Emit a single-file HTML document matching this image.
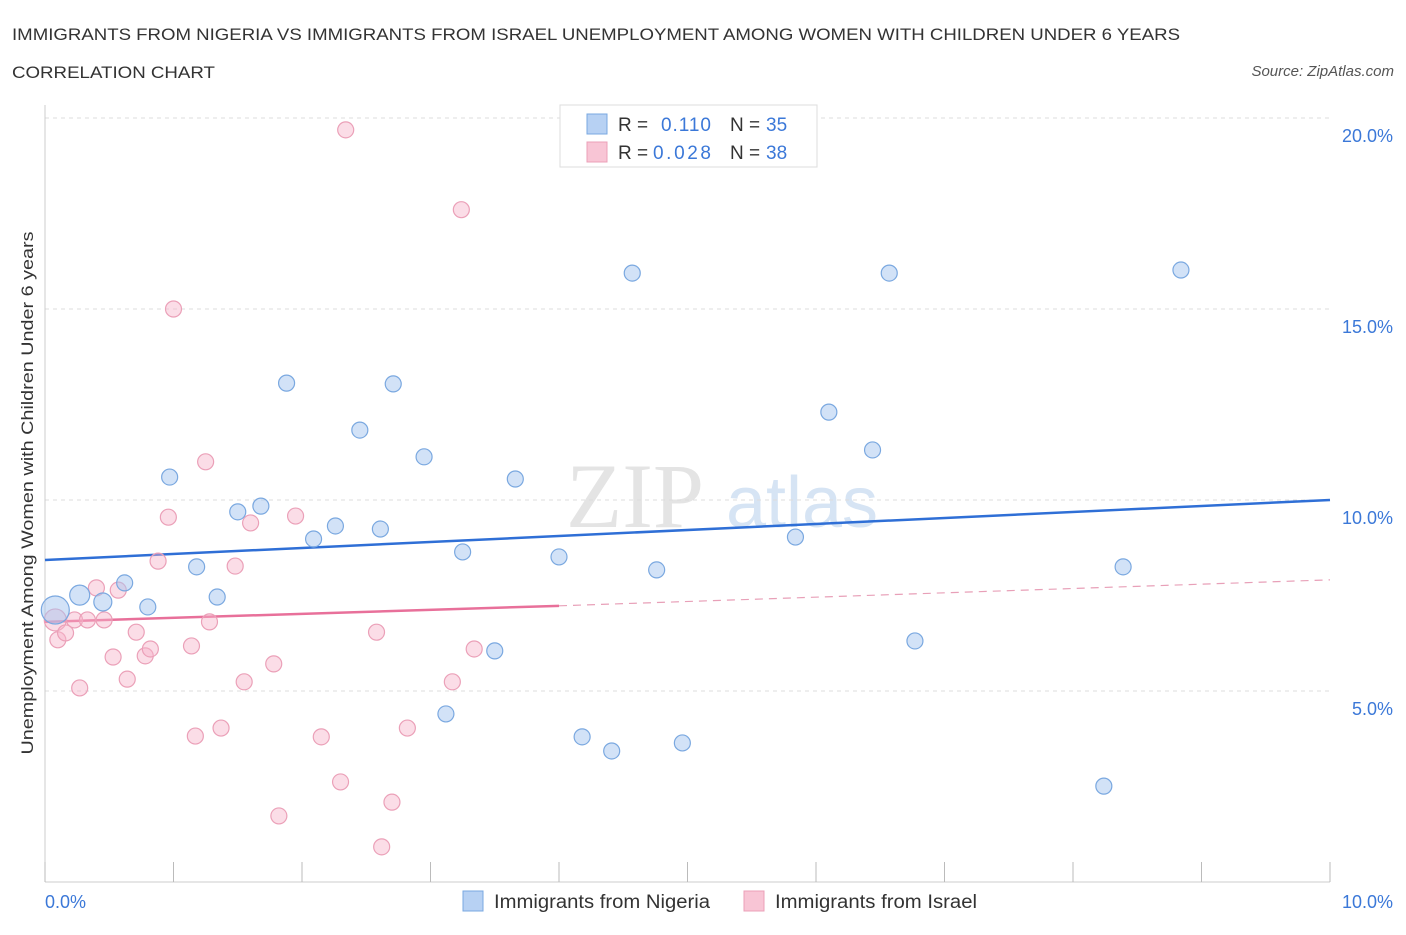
<!DOCTYPE html>
<html><head><meta charset="utf-8"><style>
body{margin:0;background:#fff;font-family:"Liberation Sans",sans-serif}
</style></head><body>
<svg width="1406" height="930" viewBox="0 0 1406 930" xmlns="http://www.w3.org/2000/svg">
<text x="12" y="40" font-size="17" fill="#333" textLength="1168" lengthAdjust="spacingAndGlyphs">IMMIGRANTS FROM NIGERIA VS IMMIGRANTS FROM ISRAEL UNEMPLOYMENT AMONG WOMEN WITH CHILDREN UNDER 6 YEARS</text>
<text x="12" y="78" font-size="17" fill="#333" textLength="203" lengthAdjust="spacingAndGlyphs">CORRELATION CHART</text>
<text x="1394" y="76" font-size="15" fill="#555" font-style="italic" text-anchor="end">Source: ZipAtlas.com</text>
<g>
<text x="635" y="527" font-size="92" fill="#e4e4e4" font-family="Liberation Serif,serif" text-anchor="middle">ZIP</text>
<text x="802" y="527" font-size="72" fill="#d6e4f4" text-anchor="middle">atlas</text>
</g>
<g id="grid"></g>
<line x1="45" y1="105" x2="45" y2="882" stroke="#ccc"/>
<line x1="45" y1="882" x2="1330" y2="882" stroke="#ccc"/>
<g id="ticks"></g>
<g id="trends"></g>
<g id="points"></g>
<text x="30" y="493" font-size="17" fill="#333" transform="rotate(-90 30 493)" text-anchor="middle" textLength="523" lengthAdjust="spacingAndGlyphs" dy="3">Unemployment Among Women with Children Under 6 years</text>
<text x="45" y="908" font-size="18" fill="#3b78d8">0.0%</text>
<text x="1393" y="908" font-size="18" fill="#3b78d8" text-anchor="end">10.0%</text>
<g>
<rect x="560" y="105" width="257" height="62" fill="#fff" stroke="#ddd"/>
<rect x="587" y="114" width="20" height="20" fill="#b7d1f3" stroke="#7aa8e0"/>
<text x="618" y="131" font-size="19" fill="#333">R = </text><text x="661" y="131" font-size="19" fill="#3b78d8" textLength="50">0.110</text>
<text x="730" y="131" font-size="19" fill="#333">N = </text><text x="766" y="131" font-size="19" fill="#3b78d8">35</text>
<rect x="587" y="142" width="20" height="20" fill="#f8c5d5" stroke="#eba0b8"/>
<text x="618" y="159" font-size="19" fill="#333">R = </text><text x="653" y="159" font-size="19" fill="#3b78d8" textLength="58">0.028</text>
<text x="730" y="159" font-size="19" fill="#333">N = </text><text x="766" y="159" font-size="19" fill="#3b78d8">38</text>
</g>
<g>
<rect x="463" y="891" width="20" height="20" fill="#b7d1f3" stroke="#7aa8e0"/>
<text x="494" y="908" font-size="19" fill="#333" textLength="216" lengthAdjust="spacingAndGlyphs">Immigrants from Nigeria</text></g>
<g>
<rect x="744" y="891" width="20" height="20" fill="#f8c5d5" stroke="#eba0b8"/>
<text x="775" y="908" font-size="19" fill="#333" textLength="202" lengthAdjust="spacingAndGlyphs">Immigrants from Israel</text></g>
</svg>
<script>
const yTicks=[5,10,15,20];
const yTickLabels=["5.0%","10.0%","15.0%","20.0%"];
const xTicks=[0,1,2,3,4,5,6,7,8,9,10];
const nigeriaX=[0.08,0.27,0.45,0.62,0.80,0.97,1.18,1.34,1.50,1.68,1.88,2.09,2.26,2.45,2.61,2.71,2.95,3.12,3.25,3.50,3.66,4.00,4.18,4.41,4.57,4.76,4.96,5.84,6.10,6.44,6.57,6.77,8.24,8.39,8.84];
const nigeriaY=[7.12,7.51,7.33,7.83,7.20,10.60,8.25,7.46,9.69,9.84,13.06,8.98,9.32,11.83,9.24,13.04,11.13,4.40,8.64,6.05,10.55,8.51,3.80,3.43,15.94,8.17,3.64,9.03,12.30,11.31,15.94,6.31,2.51,8.25,16.02];
const nigeriaR=[14,10,9,8,8,8,8,8,8,8,8,8,8,8,8,8,8,8,8,8,8,8,8,8,8,8,8,8,8,8,8,8,8,8,8];
const israelX=[0.08,0.10,0.16,0.27,0.23,0.33,0.40,0.46,0.53,0.57,0.64,0.71,0.78,0.82,0.88,0.96,1.00,1.14,1.17,1.25,1.28,1.37,1.48,1.55,1.60,1.78,1.82,1.95,2.15,2.30,2.34,2.58,2.62,2.70,2.82,3.17,3.24,3.34];
const israelY=[6.86,6.34,6.52,5.08,6.86,6.86,7.70,6.86,5.89,7.64,5.31,6.54,5.92,6.10,8.40,9.55,15.0,6.18,3.82,11.00,6.81,4.03,8.27,5.24,9.40,5.71,1.73,9.58,3.80,2.62,19.69,6.54,0.92,2.09,4.03,5.24,17.6,6.10];
const nigeriaTrend=[8.43,10.0];
const israelTrend=[6.81,7.23,7.91];
const israelTrendX=[0,4.0,10];
const X=v=>45+v*128.5, Y=v=>882-v*38.2;
const NS="http://www.w3.org/2000/svg";
function mk(t,a,p){const e=document.createElementNS(NS,t);for(const k in a)e.setAttribute(k,a[k]);p.appendChild(e);return e;}
const grid=document.getElementById('grid');
yTicks.forEach((t,i)=>{
 const l=mk('line',{x1:45,x2:1330,y1:Y(t),y2:Y(t),stroke:'#ddd','stroke-dasharray':'4,4'},grid);
 
 
 const tx=mk('text',{x:1393,y:Y(t)+24,'font-size':18,fill:'#3b78d8','text-anchor':'end'},grid);
 tx.textContent=yTickLabels[i];
 
 
});
const ticks=document.getElementById('ticks');
xTicks.forEach(t=>{
 const l=mk('line',{x1:X(t),x2:X(t),y1:862,y2:882,stroke:'#bbb'},ticks);
 
 
});
const tr=document.getElementById('trends');
const bl=mk('line',{x1:X(0),y1:Y(nigeriaTrend[0]),x2:X(10),y2:Y(nigeriaTrend[1]),stroke:'#2f6fd6','stroke-width':2.5},tr);


const pl=mk('line',{x1:X(israelTrendX[0]),y1:Y(israelTrend[0]),x2:X(israelTrendX[1]),y2:Y(israelTrend[1]),stroke:'#e8709a','stroke-width':2.5},tr);


const pd=mk('line',{x1:X(israelTrendX[1]),y1:Y(israelTrend[1]),x2:X(israelTrendX[2]),y2:Y(israelTrend[2]),stroke:'#e8a0b8','stroke-width':1.2,'stroke-dasharray':'8,6'},tr);


const pts=document.getElementById('points');
israelX.forEach((x,i)=>{
 const c=mk('circle',{cx:X(x),cy:Y(israelY[i]),r:i==0?11:8,fill:'rgba(246,180,202,0.45)',stroke:'#eba0b8','stroke-width':1.2},pts);
 
 
});
nigeriaX.forEach((x,i)=>{
 const c=mk('circle',{cx:X(x),cy:Y(nigeriaY[i]),r:nigeriaR[i],fill:'rgba(165,198,240,0.5)',stroke:'#7aa8e0','stroke-width':1.2},pts);
 
 
});
</script>
</body></html>
